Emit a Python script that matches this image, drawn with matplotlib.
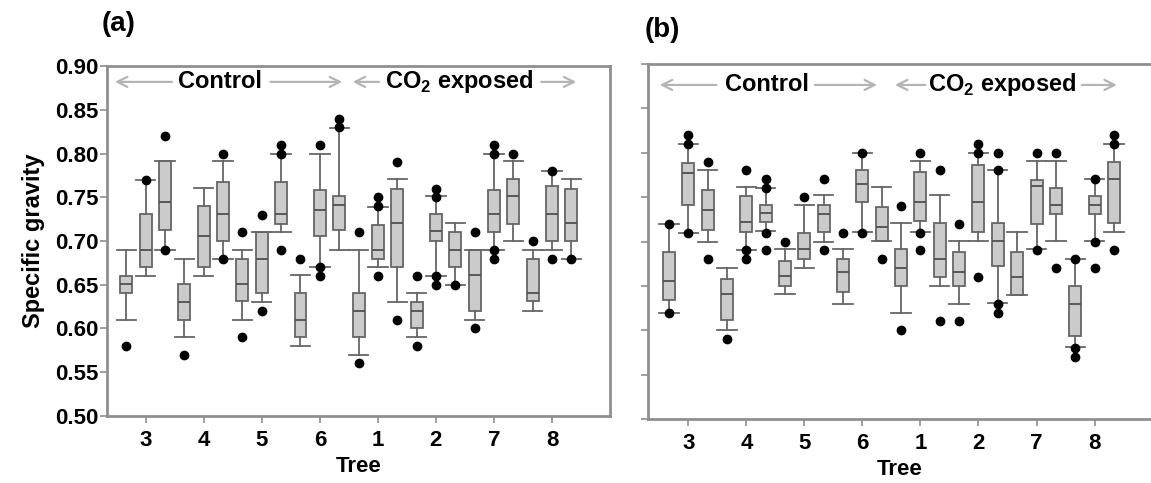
import matplotlib
matplotlib.use("Agg")
from matplotlib import pyplot as plt

plt.rcParams['font.family'] = ['Liberation Sans', 'DejaVu Sans']
plt.rcParams['font.weight'] = 'bold'
plt.rcParams['mathtext.fontset'] = 'custom'
plt.rcParams['mathtext.bf'] = 'Liberation Sans:bold'

# tree order on the x axis (3 samples per tree)
trees = ["3", "4", "5", "6", "1", "2", "7", "8"]
y_ticks = [0.50, 0.55, 0.60, 0.65, 0.70, 0.75, 0.80, 0.85, 0.90]

# panel (a) box statistics
a_whislo = [0.61, 0.66, 0.69, 0.59, 0.66, 0.68, 0.61, 0.63, 0.71, 0.58, 0.67, 0.69,
            0.57, 0.67, 0.63, 0.59, 0.66, 0.65, 0.61, 0.69, 0.70, 0.62, 0.69, 0.68]
a_q1 = [0.64, 0.67, 0.713, 0.61, 0.67, 0.70, 0.631, 0.64, 0.72, 0.59, 0.706, 0.713,
        0.59, 0.679, 0.67, 0.60, 0.70, 0.67, 0.62, 0.71, 0.72, 0.631, 0.70, 0.70]
a_med = [0.651, 0.69, 0.745, 0.63, 0.706, 0.731, 0.651, 0.679, 0.731, 0.61, 0.736, 0.741,
         0.62, 0.69, 0.721, 0.62, 0.711, 0.69, 0.661, 0.731, 0.751, 0.64, 0.731, 0.721]
a_q3 = [0.66, 0.731, 0.792, 0.651, 0.74, 0.768, 0.679, 0.71, 0.768, 0.64, 0.758, 0.751,
        0.64, 0.718, 0.76, 0.63, 0.731, 0.71, 0.69, 0.758, 0.771, 0.679, 0.763, 0.76]
a_whishi = [0.69, 0.77, 0.792, 0.68, 0.761, 0.792, 0.69, 0.71, 0.80, 0.661, 0.80, 0.829,
            0.69, 0.739, 0.771, 0.64, 0.751, 0.721, 0.69, 0.80, 0.791, 0.69, 0.78, 0.771]
a_fliers = [[0.58], [0.77], [0.82, 0.69], [0.57], [], [0.80, 0.68],
            [0.71, 0.59], [0.73, 0.62], [0.81, 0.80, 0.69], [0.68], [0.81, 0.67, 0.66], [0.84, 0.83],
            [0.71, 0.56], [0.75, 0.74, 0.66], [0.79, 0.61], [0.66, 0.58], [0.76, 0.75, 0.66, 0.65], [0.65],
            [0.71, 0.60], [0.81, 0.80, 0.69, 0.68], [0.80], [0.70], [0.78, 0.68], [0.68]]

# panel (b) box statistics
b_whislo = [0.62, 0.71, 0.70, 0.60, 0.69, 0.712, 0.641, 0.67, 0.70, 0.63, 0.711, 0.701,
            0.62, 0.711, 0.65, 0.63, 0.701, 0.631, 0.64, 0.691, 0.701, 0.581, 0.701, 0.711]
b_q1 = [0.634, 0.741, 0.713, 0.612, 0.711, 0.722, 0.65, 0.68, 0.711, 0.643, 0.744, 0.701,
        0.65, 0.723, 0.66, 0.65, 0.711, 0.672, 0.64, 0.72, 0.731, 0.593, 0.731, 0.721]
b_med = [0.656, 0.777, 0.736, 0.641, 0.722, 0.732, 0.661, 0.691, 0.731, 0.666, 0.765, 0.716,
         0.67, 0.745, 0.68, 0.666, 0.745, 0.701, 0.66, 0.763, 0.741, 0.63, 0.741, 0.77]
b_q3 = [0.688, 0.789, 0.758, 0.658, 0.751, 0.741, 0.678, 0.71, 0.741, 0.68, 0.781, 0.739,
        0.691, 0.778, 0.721, 0.688, 0.786, 0.721, 0.688, 0.769, 0.76, 0.65, 0.751, 0.79]
b_whishi = [0.72, 0.81, 0.781, 0.67, 0.761, 0.76, 0.691, 0.741, 0.752, 0.691, 0.80, 0.761,
            0.721, 0.791, 0.752, 0.701, 0.80, 0.78, 0.711, 0.791, 0.791, 0.68, 0.77, 0.81]
b_fliers = [[0.72, 0.62], [0.82, 0.81, 0.71], [0.79, 0.68], [0.59], [0.78, 0.69, 0.68], [0.77, 0.76, 0.71, 0.69],
            [0.70], [0.75], [0.77, 0.69], [0.71], [0.80, 0.71], [0.68],
            [0.74, 0.60], [0.80, 0.71, 0.69], [0.78, 0.61], [0.72, 0.61], [0.81, 0.80, 0.66], [0.80, 0.78, 0.63, 0.62],
            [], [0.80, 0.69], [0.80, 0.67], [0.68, 0.58, 0.57], [0.77, 0.70, 0.67], [0.82, 0.81, 0.69]]

EDGE = '#666666'
SPINE = '#8f8f8f'


def make_stats(whislo, q1, med, q3, whishi, fliers):
    stats = []
    for i in range(len(med)):
        stats.append({"whislo": whislo[i], "q1": q1[i], "med": med[i],
                      "q3": q3[i], "whishi": whishi[i], "fliers": fliers[i]})
    return stats


def draw_panel(ax, stats, show_ylabels):
    positions = list(range(1, len(stats) + 1))
    ax.bxp(stats, positions=positions, widths=0.62, capwidths=1.0,
           patch_artist=True, showfliers=True,
           boxprops=dict(facecolor='#cbcbcb', edgecolor=EDGE, linewidth=1.3),
           whiskerprops=dict(color=EDGE, linewidth=1.3),
           capprops=dict(color=EDGE, linewidth=1.3),
           medianprops=dict(color='#505050', linewidth=1.3),
           flierprops=dict(marker='o', markerfacecolor='black', markeredgecolor='black',
                           markersize=6))
    ax.set_ylim(0.50, 0.90)
    ax.set_yticks(y_ticks)
    ax.set_xticks([3 * i + 2 for i in range(len(trees))])
    ax.set_xticklabels(trees, fontsize=16, fontweight='bold')
    ax.tick_params(axis='x', length=5, width=1.2, color=SPINE, pad=5)
    ax.tick_params(axis='y', length=5, width=1.2, color=SPINE, pad=1)
    if show_ylabels:
        ax.set_yticklabels([f"{v:.2f}" for v in y_ticks], fontsize=16, fontweight='bold')
        ax.set_ylabel("Specific gravity", fontsize=17, fontweight='bold', labelpad=7)
    else:
        ax.set_yticklabels([])
    ax.set_xlabel("Tree", fontsize=16, fontweight='bold', labelpad=4)
    for s in ax.spines.values():
        s.set_color(SPINE)
        s.set_linewidth(2)


def group_label(ax, y, left_tip, left_tail, text, x_text, right_tail, right_tip):
    arrow = dict(arrowstyle='->', color='#b4b4b4', lw=1.6, mutation_scale=18)
    ax.annotate("", xy=(left_tip, y), xytext=(left_tail, y),
                xycoords=('data', 'axes fraction'), arrowprops=arrow)
    ax.annotate("", xy=(right_tip, y), xytext=(right_tail, y),
                xycoords=('data', 'axes fraction'), arrowprops=arrow)
    ax.text(x_text, y, text, transform=ax.get_xaxis_transform(),
            ha='center', va='center', fontsize=17, fontweight='bold')


fig = plt.figure(figsize=(11.51, 4.83), dpi=100)
ax_a = fig.add_axes([0.093, 0.139, 0.437, 0.724])
ax_b = fig.add_axes([0.5627, 0.1325, 0.437, 0.735])

draw_panel(ax_a, make_stats(a_whislo, a_q1, a_med, a_q3, a_whishi, a_fliers), True)
draw_panel(ax_b, make_stats(b_whislo, b_q1, b_med, b_q3, b_whishi, b_fliers), False)
ax_a.set_xlim(0, 26)
ax_b.set_xlim(-0.1, 25.9)
ax_b.spines['right'].set_visible(False)

co2 = r"CO$_{\mathbf{2}}$ exposed"
group_label(ax_a, 0.955, 0.26, 3.5, "Control", 5.86, 8.3, 12.3)
group_label(ax_a, 0.955, 12.55, 14.2, co2, 18.2, 22.3, 24.4)
group_label(ax_b, 0.941, 0.38, 3.6, "Control", 6.07, 8.4, 11.9)
group_label(ax_b, 0.941, 12.54, 14.4, co2, 18.24, 22.2, 24.3)

fig.text(119 / 1151, 1 - 24 / 483, "(a)", ha='center', va='center', fontsize=20, fontweight='bold')
fig.text(662 / 1151, 1 - 30 / 483, "(b)", ha='center', va='center', fontsize=20, fontweight='bold')

fig.savefig("out.png", dpi=100)
